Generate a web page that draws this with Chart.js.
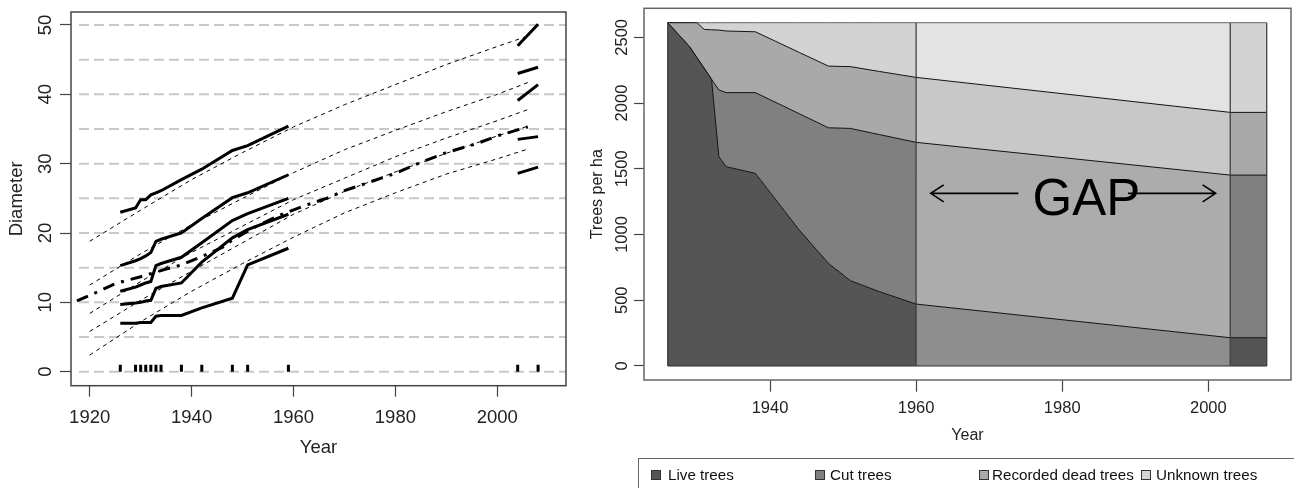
<!DOCTYPE html>
<html>
<head>
<meta charset="utf-8">
<script src="https://cdn.jsdelivr.net/npm/chart.js@4.4.1/dist/chart.umd.min.js"></script>
<style>
  body { margin:0; background:#fff; font-family:"Liberation Sans", Arial, sans-serif; }
  #wrap { position:relative; width:1294px; height:488px; overflow:hidden; }
  #left { position:absolute; left:0; top:0; }
  #right { position:absolute; left:590px; top:0; }
  #legend { position:absolute; left:638px; top:458px; width:720px; height:60px; border:1.5px solid #666; box-sizing:border-box; }
  .lab { position:absolute; top:8px; font-size:15.2px; line-height:15px; color:#111; white-space:nowrap; }
  .sw { position:absolute; top:11px; width:10px; height:10px; border:1px solid #333; box-sizing:border-box; }
</style>
</head>
<body>
<div id="wrap">
  <canvas id="left" width="590" height="488"></canvas>
  <canvas id="right" width="704" height="488"></canvas>
  <div id="legend"></div>
</div>
<script>
// ---- left panel: diameter development ----
const obsYears = [1926, 1929, 1930, 1931, 1932, 1933, 1934, 1938, 1942, 1948, 1951, 1959];
const tree1 = [23.0, 23.6, 24.8, 24.8, 25.5, 25.8, 26.1, 27.7, 29.2, 31.9, 32.6, 35.4];
const tree2 = [15.3, 16.0, 16.3, 16.7, 17.2, 18.8, 19.1, 20.0, 22.1, 25.1, 25.8, 28.4];
const tree3 = [11.6, 12.2, 12.5, 12.8, 13.0, 15.3, 15.6, 16.5, 18.6, 21.8, 22.8, 25.0];
const tree4 = [9.7, 9.9, 10.0, 10.2, 10.3, 12.0, 12.3, 12.8, 15.8, 19.3, 20.5, 22.7];
const tree5 = [7.0, 7.0, 7.1, 7.1, 7.1, 8.0, 8.1, 8.1, 9.2, 10.6, 15.4, 17.8];

const recentYears = [2004, 2008];
const recent1 = [47.0, 50.1];
const recent2 = [43.0, 43.9];
const recent3 = [39.1, 41.4];
const recent4 = [33.5, 33.9];
const recent5 = [28.6, 29.5];

const predYears = [1920, 1930, 1940, 1950, 1960, 1970, 1980, 1990, 2000, 2006];
const pred1 = [18.8, 23.3, 27.7, 31.6, 35.3, 38.5, 41.4, 44.3, 46.9, 48.4];
const pred2 = [12.5, 17.0, 21.2, 25.0, 28.7, 32.0, 34.8, 37.5, 40.0, 41.7];
const pred3 = [8.4, 13.0, 17.2, 21.0, 24.8, 27.9, 31.0, 33.7, 36.2, 37.8];
const pred4 = [5.8, 10.3, 14.5, 18.6, 22.7, 26.0, 28.8, 31.5, 34.0, 35.4];
const pred5 = [2.4, 7.2, 11.6, 15.6, 19.4, 22.9, 25.8, 28.5, 30.7, 32.1];

const meanYears = [1917.5, 1920, 1925, 1930, 1935, 1938, 1942, 1946, 1948, 1952, 1957, 1962, 1966.5, 1970, 1980, 1985, 1990, 1996, 2000, 2006];
const meanDiam = [10.2, 11.0, 12.7, 13.7, 14.8, 15.4, 16.6, 17.9, 19.0, 20.7, 22.5, 23.9, 25.0, 26.1, 28.6, 30.2, 31.6, 32.9, 34.0, 35.3];

const sampleYears = [1926, 1929, 1930, 1931, 1932, 1933, 1934, 1938, 1942, 1948, 1951, 1959, 2004, 2008];
const diamTicks = [0, 10, 20, 30, 40, 50];
const diamGrid = [0, 5, 10, 15, 20, 25, 30, 35, 40, 45, 50];
const leftYearTicks = [1920, 1940, 1960, 1980, 2000];

// ---- right panel: stand composition ----
const standYears = [1926, 1929, 1930, 1931, 1932, 1933, 1934, 1938, 1944, 1948, 1951, 1955, 1960, 2003, 2008];
const liveTop = [2611, 2428, 2345, 2264, 2180, 1592, 1516, 1465, 1034, 781, 649, 565, 471, 215, 215];
const cutTop  = [2611, 2428, 2345, 2264, 2180, 2099, 2079, 2079, 1919, 1812, 1807, 1760, 1701, 1452, 1452];
const deadTop = [2611, 2611, 2611, 2560, 2557, 2555, 2548, 2542, 2385, 2281, 2277, 2240, 2195, 1929, 1929];
const allTop  = [2611, 2611, 2611, 2611, 2611, 2611, 2611, 2611, 2611, 2611, 2611, 2611, 2611, 2611, 2611];
const standEdges = [1926, 1960, 2003, 2008];
const gapYears = [1960, 2003];
const treeTicks = [0, 500, 1000, 1500, 2000, 2500];
const rightYearTicks = [1940, 1960, 1980, 2000];
const legendLabels = ['Live trees', 'Cut trees', 'Recorded dead trees', 'Unknown trees'];

const bandColors = ['#555555', '#808080', '#a9a9a9', '#d3d3d3'];
const gapColors = ['#8e8e8e', '#acacac', '#c8c8c8', '#e3e3e3'];
const FONT = "'Liberation Sans', Arial, sans-serif";

const pts = (xs, ys) => xs.map((x, i) => ({x: x, y: ys[i]}));

function frame(color, width){
  return { id:'frame', afterDraw(chart){
    const {ctx, chartArea:a} = chart;
    ctx.save(); ctx.strokeStyle = color; ctx.lineWidth = width;
    ctx.strokeRect(a.left, a.top, a.right - a.left, a.bottom - a.top);
    ctx.restore();
  }};
}
function rotatedYLabels(cx, size){
  return { id:'rotY', afterDraw(chart){
    const {ctx, scales:{y}} = chart;
    ctx.save(); ctx.font = size + 'px ' + FONT; ctx.fillStyle = '#222';
    ctx.textAlign = 'center'; ctx.textBaseline = 'middle';
    y.ticks.forEach(t => {
      ctx.save(); ctx.translate(cx, y.getPixelForValue(t.value)); ctx.rotate(-Math.PI/2);
      ctx.fillText(String(t.value), 0, 0); ctx.restore();
    });
    ctx.restore();
  }};
}
const dashedGrid = { id:'dashedGrid', beforeDatasetsDraw(chart){
  const {ctx, chartArea:a, scales:{y}} = chart;
  ctx.save(); ctx.strokeStyle = '#c8c8c8'; ctx.lineWidth = 2; ctx.setLineDash([10, 5]);
  diamGrid.forEach(v => {
    const py = y.getPixelForValue(v);
    ctx.beginPath(); ctx.moveTo(a.left + 8, py); ctx.lineTo(a.right, py); ctx.stroke();
  });
  ctx.restore();
}};

function axisCommon(tl){
  return {
    type:'linear',
    grid:{ display:true, drawOnChartArea:false, drawTicks:true, tickLength:tl, color:'#444', tickColor:'#444', tickWidth:1.2 },
    border:{ display:false }
  };
}

// ---------- left chart ----------
const solid = (data) => ({ data, borderColor:'#000', borderWidth:3, pointRadius:0, fill:false });
const leftDatasets = [
  solid(pts(obsYears, tree1)), solid(pts(obsYears, tree2)), solid(pts(obsYears, tree3)),
  solid(pts(obsYears, tree4)), solid(pts(obsYears, tree5)),
  solid(pts(recentYears, recent1)), solid(pts(recentYears, recent2)), solid(pts(recentYears, recent3)),
  solid(pts(recentYears, recent4)), solid(pts(recentYears, recent5)),
  { data: pts(meanYears, meanDiam), borderColor:'#000', borderWidth:3, borderDash:[12, 7, 3, 7], pointRadius:0, fill:false },
  { data: sampleYears.map(x => ({x: x, y: 0.5})), showLine:false, pointStyle:'line', pointRotation:90, pointRadius:3.4,
    pointBorderWidth:3, pointBorderColor:'#000', borderColor:'#000' }
];
[pred1, pred2, pred3, pred4, pred5].forEach(p => leftDatasets.push(
  { data: pts(predYears, p), borderColor:'#000', borderWidth:1, borderDash:[4, 4], pointRadius:0, fill:false }
));

new Chart(document.getElementById('left'), {
  type:'line',
  data:{ datasets: leftDatasets },
  options:{
    responsive:false, animation:false,
    layout:{ padding:{ top:12, right:24, left:0, bottom:0 } },
    plugins:{ legend:{display:false}, tooltip:{enabled:false} },
    elements:{ line:{ tension:0 } },
    scales:{
      x: Object.assign(axisCommon(11), {
        min:1916.33, max:2013.48,
        afterBuildTicks: s => { s.ticks = leftYearTicks.map(v => ({value:v})); },
        afterFit: s => { s.height = 102.3; },
        ticks:{ color:'#222', font:{family:FONT, size:18.5, lineHeight:1}, padding:11.5, maxRotation:0, autoSkip:false, callback: v => String(v) },
        title:{ display:true, text:'Year', color:'#222', font:{family:FONT, size:18.5, lineHeight:1}, padding:{top:0, bottom:30.75} }
      }),
      y: Object.assign(axisCommon(11), {
        min:-2.02, max:51.87,
        afterBuildTicks: s => { s.ticks = diamTicks.map(v => ({value:v})); },
        afterFit: s => { s.width = 71; },
        ticks:{ display:false },
        title:{ display:true, text:'Diameter', color:'#222', font:{family:FONT, size:18.5, lineHeight:1}, padding:{top:7.75, bottom:0} }
      })
    }
  },
  plugins:[dashedGrid, frame('#444', 1.5), rotatedYLabels(45.6, 18.5)]
});

// ---------- right chart ----------
const gapNote = { trees:1313, leftFrom:1974, leftTo:1962, rightFrom:1989, rightTo:2001, textYear:1983.3, textTrees:1148 };
const inGap = c => c.p0.parsed.x >= gapYears[0] && c.p1.parsed.x <= gapYears[1];
const band = (vals, i, fill, line) => ({
  data: pts(standYears, vals), borderColor: line, borderWidth:1, pointRadius:0, fill: fill,
  backgroundColor: bandColors[i],
  segment:{ backgroundColor: c => inGap(c) ? gapColors[i] : bandColors[i] }
});

const standOutline = { id:'standOutline', afterDatasetsDraw(chart){
  const {ctx, scales:{x, y}} = chart;
  ctx.save(); ctx.strokeStyle = '#333'; ctx.lineWidth = 1.2;
  standEdges.forEach(yr => {
    const px = x.getPixelForValue(yr), i = standYears.indexOf(yr);
    ctx.beginPath(); ctx.moveTo(px, y.getPixelForValue(0)); ctx.lineTo(px, y.getPixelForValue(allTop[i])); ctx.stroke();
  });
  ctx.beginPath();
  ctx.moveTo(x.getPixelForValue(standYears[0]), y.getPixelForValue(0));
  ctx.lineTo(x.getPixelForValue(standYears[standYears.length - 1]), y.getPixelForValue(0));
  ctx.stroke();
  // GAP annotation
  const ay = y.getPixelForValue(gapNote.trees);
  ctx.strokeStyle = '#000'; ctx.lineWidth = 1.6;
  const arrow = (from, to) => {
    const x0 = x.getPixelForValue(from), x1 = x.getPixelForValue(to), d = Math.sign(x1 - x0);
    ctx.beginPath(); ctx.moveTo(x0, ay); ctx.lineTo(x1, ay);
    ctx.moveTo(x1 - d*13, ay - 8.5); ctx.lineTo(x1, ay); ctx.lineTo(x1 - d*13, ay + 8.5); ctx.stroke();
  };
  arrow(gapNote.leftFrom, gapNote.leftTo);
  arrow(gapNote.rightFrom, gapNote.rightTo);
  ctx.fillStyle = '#000'; ctx.font = '51px ' + FONT; ctx.textAlign = 'center'; ctx.textBaseline = 'alphabetic';
  ctx.fillText('GAP', x.getPixelForValue(gapNote.textYear), y.getPixelForValue(gapNote.textTrees));
  ctx.restore();
}};

new Chart(document.getElementById('right'), {
  type:'line',
  data:{ datasets:[
    band(liveTop, 0, 'origin', '#111'),
    band(cutTop, 1, '-1', '#111'),
    band(deadTop, 2, '-1', '#111'),
    band(allTop, 3, '-1', '#666')
  ]},
  options:{
    responsive:false, animation:false,
    layout:{ padding:{ top:8.3, right:3, left:0, bottom:0 } },
    plugins:{ legend:{display:false}, tooltip:{enabled:false} },
    elements:{ line:{ tension:0 } },
    scales:{
      x: Object.assign(axisCommon(11.7), {
        min:1922.75, max:2011.32,
        afterBuildTicks: s => { s.ticks = rightYearTicks.map(v => ({value:v})); },
        afterFit: s => { s.height = 108; },
        ticks:{ color:'#222', font:{family:FONT, size:16.5, lineHeight:1}, padding:8.3, maxRotation:0, autoSkip:false, callback: v => String(v) },
        title:{ display:true, text:'Year', color:'#222', font:{family:FONT, size:16, lineHeight:1}, padding:{top:0, bottom:44.3} }
      }),
      y: Object.assign(axisCommon(10), {
        min:-106.5, max:2720.6,
        afterBuildTicks: s => { s.ticks = treeTicks.map(v => ({value:v})); },
        afterFit: s => { s.width = 54; },
        ticks:{ display:false },
        title:{ display:true, text:'Trees per ha', color:'#222', font:{family:FONT, size:16, lineHeight:1}, padding:{top:0, bottom:0} }
      })
    }
  },
  plugins:[standOutline, frame('#666', 1.5), rotatedYLabels(32.3, 16.5)]
});

// legend box (R style, horizontal)
const legendSwatchX = [12, 176, 340, 502];
const legendTextX = [29, 191, 353, 517];
const lg = document.getElementById('legend');
legendLabels.forEach((t, i) => {
  const sw = document.createElement('div'); sw.className = 'sw';
  sw.style.left = legendSwatchX[i] + 'px'; sw.style.background = bandColors[i];
  const lb = document.createElement('div'); lb.className = 'lab';
  lb.style.left = legendTextX[i] + 'px'; lb.textContent = t;
  lg.appendChild(sw); lg.appendChild(lb);
});
</script>
</body>
</html>
